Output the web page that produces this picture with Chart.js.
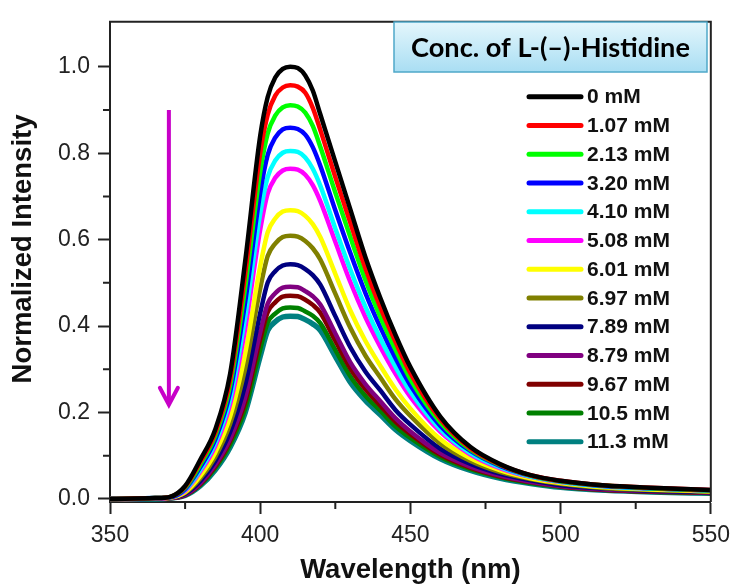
<!DOCTYPE html>
<html>
<head>
<meta charset="utf-8">
<title>Histidine quenching</title>
<script src="https://cdn.jsdelivr.net/npm/chart.js@4.4.1/dist/chart.umd.min.js"></script>
<style>
  body { margin: 0; background: #fff; }
  canvas { display: block; }
</style>
</head>
<body>
<canvas id="myChart" width="738" height="584"></canvas>
<script>
/** DATA */
var wavelength = [350,365,370,375,380,385,390,395,400,402.5,405,407.5,410,412.5,415,417.5,420,425,430,435,440,445,450,460,470,480,490,500,515,530,550];

var conc0   = [0,0.002,0.005,0.030,0.090,0.160,0.290,0.550,0.840,0.930,0.975,0.995,1.000,0.997,0.980,0.945,0.890,0.780,0.670,0.560,0.465,0.380,0.305,0.190,0.120,0.080,0.055,0.042,0.031,0.026,0.021];
var conc107 = [0,0.002,0.005,0.028,0.085,0.153,0.277,0.521,0.800,0.889,0.933,0.952,0.957,0.954,0.940,0.905,0.854,0.745,0.639,0.534,0.443,0.364,0.291,0.184,0.117,0.079,0.055,0.042,0.031,0.026,0.021];
var conc213 = [0,0.002,0.005,0.026,0.079,0.146,0.263,0.490,0.757,0.846,0.887,0.906,0.911,0.908,0.894,0.863,0.815,0.709,0.606,0.507,0.421,0.346,0.277,0.177,0.114,0.078,0.054,0.041,0.031,0.025,0.020];
var conc320 = [0,0.002,0.004,0.023,0.073,0.137,0.248,0.456,0.709,0.796,0.836,0.855,0.859,0.856,0.843,0.814,0.771,0.668,0.569,0.477,0.397,0.326,0.263,0.169,0.111,0.076,0.054,0.041,0.030,0.025,0.020];
var conc410 = [0,0.002,0.004,0.021,0.067,0.129,0.232,0.421,0.660,0.745,0.783,0.801,0.805,0.803,0.790,0.764,0.725,0.626,0.531,0.445,0.371,0.306,0.248,0.161,0.106,0.073,0.052,0.040,0.029,0.024,0.020];
var conc508 = [0,0.001,0.004,0.019,0.063,0.122,0.220,0.395,0.623,0.707,0.743,0.760,0.764,0.762,0.750,0.726,0.689,0.595,0.502,0.421,0.352,0.290,0.236,0.155,0.103,0.071,0.051,0.039,0.029,0.024,0.019];
var conc601 = [0,0.001,0.003,0.016,0.053,0.107,0.191,0.337,0.538,0.617,0.649,0.665,0.668,0.666,0.655,0.636,0.606,0.521,0.436,0.366,0.308,0.254,0.209,0.138,0.094,0.066,0.048,0.037,0.027,0.022,0.018];
var conc697 = [0,0.001,0.003,0.014,0.047,0.097,0.174,0.302,0.487,0.562,0.591,0.606,0.609,0.607,0.597,0.580,0.554,0.475,0.396,0.332,0.281,0.231,0.192,0.128,0.088,0.062,0.046,0.035,0.025,0.021,0.017];
var conc789 = [0,0.001,0.003,0.012,0.041,0.087,0.155,0.264,0.430,0.501,0.527,0.540,0.543,0.541,0.532,0.518,0.496,0.423,0.351,0.295,0.251,0.206,0.172,0.116,0.081,0.058,0.043,0.032,0.024,0.019,0.016];
var conc879 = [0,0.001,0.002,0.010,0.036,0.079,0.140,0.235,0.386,0.452,0.476,0.489,0.491,0.490,0.481,0.469,0.450,0.383,0.316,0.266,0.226,0.187,0.156,0.106,0.075,0.054,0.040,0.030,0.022,0.018,0.015];
var conc967 = [0,0.001,0.002,0.009,0.034,0.075,0.134,0.224,0.369,0.432,0.455,0.468,0.470,0.469,0.461,0.449,0.431,0.366,0.302,0.254,0.216,0.179,0.150,0.102,0.072,0.052,0.039,0.029,0.021,0.017,0.014];
var conc105 = [0,0.001,0.002,0.009,0.032,0.071,0.126,0.209,0.346,0.408,0.429,0.441,0.443,0.442,0.434,0.424,0.407,0.345,0.284,0.239,0.204,0.168,0.141,0.097,0.069,0.050,0.037,0.028,0.021,0.017,0.014];
var conc113 = [0,0,0.002,0.008,0.030,0.067,0.120,0.200,0.330,0.390,0.410,0.421,0.423,0.422,0.415,0.405,0.390,0.330,0.270,0.228,0.195,0.161,0.135,0.093,0.066,0.048,0.036,0.027,0.020,0.016,0.013];

var allSeries = [conc0,conc107,conc213,conc320,conc410,conc508,conc601,conc697,conc789,conc879,conc967,conc105,conc113];
var concLabels = ['0 mM','1.07 mM','2.13 mM','3.20 mM','4.10 mM','5.08 mM','6.01 mM','6.97 mM','7.89 mM','8.79 mM','9.67 mM','10.5 mM','11.3 mM'];
var lineColors = ['#000000','#ff0000','#00ff00','#0000ff','#00ffff','#ff00ff','#ffff00','#808000','#000080','#800080','#800000','#008000','#008080'];

var xMajor = [350,400,450,500,550];
var xMinor = [375,425,475,525];
var yMajor = [0,0.2,0.4,0.6,0.8,1.0];
var yMinor = [0.1,0.3,0.5,0.7,0.9];

// arrow: wavelength, from intensity, to intensity
var arrowX = 369.6;
var arrowFrom = 0.9;
var arrowTo = 0.218;

var legendTitle = 'Conc. of L-(\u2013)-Histidine';
var yTitle = 'Normalized Intensity';

/** build datasets */
var datasets = allSeries.map(function(s, i){
    return {
        label: concLabels[i],
        data: s.map(function(v, j){ return {x: wavelength[j], y: v}; }),
        borderColor: lineColors[i],
        backgroundColor: lineColors[i],
        borderWidth: i == allSeries.length - 1 ? 5.5 : 4.5,
        pointRadius: 0,
        fill: false,
        cubicInterpolationMode: 'monotone'
    };
});

/** frame, minor ticks, arrow, legend, y title */
var extrasPlugin = {
    id: 'extras',
    afterDatasetsDraw: function(chart){
        var ctx = chart.ctx;
        var xs = chart.scales.x, ys = chart.scales.y;
        var ax = xs.getPixelForValue(arrowX);
        var y1 = ys.getPixelForValue(arrowFrom);
        var y2 = ys.getPixelForValue(arrowTo);
        ctx.save();
        ctx.strokeStyle = '#c800c8';
        ctx.lineWidth = 4;
        ctx.beginPath();
        ctx.moveTo(ax, y1);
        ctx.lineTo(ax, y2 - 2);
        ctx.stroke();
        ctx.lineCap = 'round';
        ctx.beginPath();
        ctx.moveTo(ax - 9, y2 - 17);
        ctx.lineTo(ax, y2);
        ctx.lineTo(ax + 9, y2 - 17);
        ctx.stroke();
        ctx.restore();
    },
    afterDraw: function(chart){
        var ctx = chart.ctx, a = chart.chartArea;
        var xs = chart.scales.x, ys = chart.scales.y;
        ctx.save();
        ctx.strokeStyle = '#222';
        ctx.lineWidth = 2;
        ctx.beginPath();
        ctx.moveTo(a.left - 1, a.top);
        ctx.lineTo(a.right, a.top);
        ctx.lineTo(a.right, a.bottom);
        xMinor.forEach(function(v){
            var px = xs.getPixelForValue(v);
            ctx.moveTo(px, a.bottom);
            ctx.lineTo(px, a.bottom + 7);
        });
        yMinor.forEach(function(v){
            var py = ys.getPixelForValue(v);
            ctx.moveTo(a.left, py);
            ctx.lineTo(a.left - 7, py);
        });
        ctx.stroke();

        // y axis title, a little above centre like the original
        ctx.save();
        ctx.translate(23, 249);
        ctx.rotate(-Math.PI / 2);
        ctx.font = 'bold 27.5px "Liberation Sans", Arial, sans-serif';
        ctx.fillStyle = '#111';
        ctx.textAlign = 'center';
        ctx.textBaseline = 'middle';
        ctx.fillText(yTitle, 0, 0);
        ctx.restore();

        // title box
        var bx = 394, by = 22, bw = 313, bh = 50;
        var grad = ctx.createLinearGradient(0, by, 0, by + bh);
        grad.addColorStop(0, '#e4f6fc');
        grad.addColorStop(1, '#a9def3');
        ctx.fillStyle = grad;
        ctx.fillRect(bx, by, bw, bh);
        ctx.strokeStyle = '#4fa8c9';
        ctx.lineWidth = 1.5;
        ctx.strokeRect(bx, by, bw, bh);
        var size = 26;
        ctx.font = 'bold ' + size + 'px Lato';
        var w = ctx.measureText(legendTitle).width;
        size = size * 279 / w;
        ctx.font = 'bold ' + size + 'px Lato';
        ctx.fillStyle = '#000';
        ctx.textAlign = 'center';
        ctx.textBaseline = 'middle';
        ctx.fillText(legendTitle, bx + bw / 2, by + bh / 2 + 1);

        // legend entries
        ctx.textAlign = 'left';
        ctx.font = 'bold 21px "Liberation Sans", Arial, sans-serif';
        ctx.lineCap = 'round';
        chart.data.datasets.forEach(function(ds, i){
            var ly = 96.7 + i * 28.75;
            ctx.strokeStyle = ds.borderColor;
            ctx.lineWidth = 5;
            ctx.beginPath();
            ctx.moveTo(529, ly);
            ctx.lineTo(581, ly);
            ctx.stroke();
            ctx.fillStyle = '#111';
            ctx.fillText(ds.label, 587, ly + 1);
        });
        ctx.restore();
    }
};

var myChart = document.getElementById('myChart').getContext('2d');
Chart.defaults.font.family = '"Liberation Sans", Arial, sans-serif';
Chart.defaults.color = '#222';

var allChart = new Chart(myChart, {
    type: 'line',
    data: { datasets: datasets },
    options: {
        responsive: false,
        animation: false,
        devicePixelRatio: 1,
        layout: { padding: { left: 0, right: 21, top: 13, bottom: 0 } },
        plugins: {
            legend: { display: false },
            tooltip: { enabled: false }
        },
        scales: {
            x: {
                type: 'linear',
                min: 350,
                max: 550,
                afterBuildTicks: function(scale){
                    scale.ticks = xMajor.map(function(v){ return {value: v}; });
                },
                afterFit: function(scale){ scale.height = 82; },
                border: { display: true, color: '#222', width: 2 },
                grid: { drawOnChartArea: false, drawTicks: true, tickLength: 12, tickWidth: 2, tickColor: '#222' },
                ticks: { font: { size: 23 }, color: '#222', padding: 8, maxRotation: 0 },
                title: {
                    display: true,
                    text: 'Wavelength (nm)',
                    color: '#111',
                    font: { size: 27.5, weight: 'bold', lineHeight: 1 },
                    padding: { top: 0, bottom: 0 }
                }
            },
            y: {
                type: 'linear',
                min: -0.007,
                max: 1.104,
                afterBuildTicks: function(scale){
                    scale.ticks = yMajor.map(function(v){ return {value: v}; });
                },
                afterFit: function(scale){ scale.width = 110; },
                border: { display: true, color: '#222', width: 2 },
                grid: { drawOnChartArea: false, drawTicks: true, tickLength: 12, tickWidth: 2, tickColor: '#222' },
                ticks: {
                    font: { size: 23 }, color: '#222', padding: 8,
                    callback: function(v){ return Number(v).toFixed(1); }
                },
                title: { display: false }
            }
        }
    },
    plugins: [extrasPlugin]
});
</script>
</body>
</html>
